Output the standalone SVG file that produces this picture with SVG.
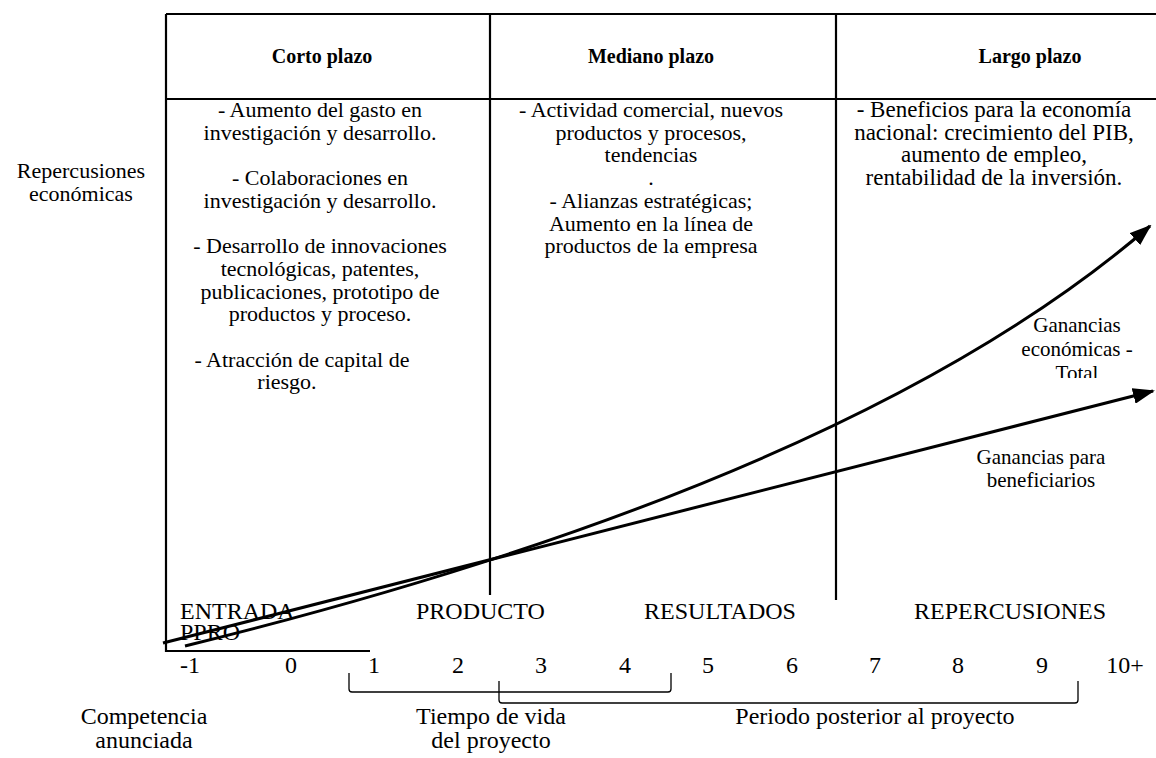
<svg xmlns="http://www.w3.org/2000/svg" width="1156" height="758" viewBox="0 0 1156 758">
<defs>
<style>
text{font-family:"Liberation Serif","Times New Roman",serif;font-size:22px;fill:#000}
.c{text-anchor:middle}
.h{font-weight:bold;font-size:20px}
.big{font-size:24px}
.lab{font-size:21px}
.c3{font-size:23px}
.ln{stroke:#000;stroke-width:2.2;fill:none}
.br{stroke:#000;stroke-width:1.3;fill:none}
.ar{stroke:#000;stroke-width:3;fill:none}
</style>
<marker id="ah" viewBox="0 0 22 16" refX="20" refY="8" markerWidth="22" markerHeight="16" markerUnits="userSpaceOnUse" orient="auto">
<path d="M0,0 L22,8 L0,16 Z" fill="#000"/>
</marker>
<clipPath id="clipTotal"><rect x="1000" y="300" width="156" height="78"/></clipPath>
</defs>
<rect width="1156" height="758" fill="#fff"/>
<g id="table">
<path class="ln" d="M166,14 H1156 M166,99 H1156 M166,14 V651 H370 M490,14 V595 M836,14 V600"/>
</g>
<g id="headers">
<text class="c h" x="322" y="63">Corto plazo</text>
<text class="c h" x="651" y="63">Mediano plazo</text>
<text class="c h" x="1030" y="63">Largo plazo</text>
</g>
<g id="corto">
<text class="c" x="320" y="117">- Aumento del gasto en</text>
<text class="c" x="320" y="139.7">investigación y desarrollo.</text>
<text class="c" x="320" y="185.1">- Colaboraciones en</text>
<text class="c" x="320" y="207.8">investigación y desarrollo.</text>
<text class="c" x="320" y="253.2">- Desarrollo de innovaciones</text>
<text class="c" x="320" y="275.9">tecnológicas, patentes,</text>
<text class="c" x="320" y="298.6">publicaciones, prototipo de</text>
<text class="c" x="320" y="321.3">productos y proceso.</text>
<text class="c" x="302" y="366.7">- Atracción de capital de</text>
<text class="c" x="287" y="389.4">riesgo.</text>
</g>
<g id="mediano">
<text class="c" x="651" y="117">- Actividad comercial, nuevos</text>
<text class="c" x="651" y="139.7">productos y procesos,</text>
<text class="c" x="651" y="162.4">tendencias</text>
<text class="c" x="651" y="185.1">.</text>
<text class="c" x="651" y="207.8">- Alianzas estratégicas;</text>
<text class="c" x="651" y="230.5">Aumento en la línea de</text>
<text class="c" x="651" y="253.2">productos de la empresa</text>
</g>
<g id="largo">
<text class="c c3" x="994" y="117">- Beneficios para la economía</text>
<text class="c c3" x="994" y="139.7">nacional: crecimiento del PIB,</text>
<text class="c c3" x="994" y="162.4">aumento de empleo,</text>
<text class="c c3" x="994" y="185.1">rentabilidad de la inversión.</text>
</g>
<g id="side-label">
<text class="c" x="81" y="178">Repercusiones</text>
<text class="c" x="81" y="201">económicas</text>
</g>
<g id="connectors">
<path class="ar" d="M185,646 Q855,481 1150,226" marker-end="url(#ah)"/>
<path class="ar" d="M163,643 L1153,391" marker-end="url(#ah)"/>
</g>
<g id="label-total" clip-path="url(#clipTotal)">
<text class="c lab" x="1077" y="332">Ganancias</text>
<text class="c lab" x="1077" y="356">económicas -</text>
<text class="c lab" x="1077" y="380">Total</text>
</g>
<g id="label-benef">
<text class="c lab" x="1041" y="464">Ganancias para</text>
<text class="c lab" x="1041" y="487">beneficiarios</text>
</g>
<g id="stages">
<text class="big" x="180" y="619">ENTRADA</text>
<text class="big" x="180" y="640">PPRO</text>
<text class="big" x="416" y="619">PRODUCTO</text>
<text class="c big" x="720" y="619">RESULTADOS</text>
<text class="c big" x="1010" y="619">REPERCUSIONES</text>
</g>
<g id="axis-numbers">
<text class="c big" x="190" y="673">-1</text>
<text class="c big" x="291" y="673">0</text>
<text class="c big" x="374" y="673">1</text>
<text class="c big" x="458" y="673">2</text>
<text class="c big" x="541" y="673">3</text>
<text class="c big" x="625" y="673">4</text>
<text class="c big" x="708" y="673">5</text>
<text class="c big" x="792" y="673">6</text>
<text class="c big" x="875" y="673">7</text>
<text class="c big" x="958" y="673">8</text>
<text class="c big" x="1042" y="673">9</text>
<text class="c big" x="1125" y="673">10+</text>
</g>
<g id="brace-vida">
<path class="br" d="M349,673 V689 Q349,692 352,692 H668 Q671,692 671,689 V673"/>
</g>
<g id="brace-posterior">
<path class="br" d="M499,681 V700 Q499,703 502,703 H1075 Q1078,703 1078,700 V681"/>
</g>
<g id="bottom-labels">
<text class="c big" x="144" y="724">Competencia</text>
<text class="c big" x="144" y="748">anunciada</text>
<text class="c big" x="491" y="724">Tiempo de vida</text>
<text class="c big" x="491" y="748">del proyecto</text>
<text class="c big" x="875" y="724">Periodo posterior al proyecto</text>
</g>
</svg>
